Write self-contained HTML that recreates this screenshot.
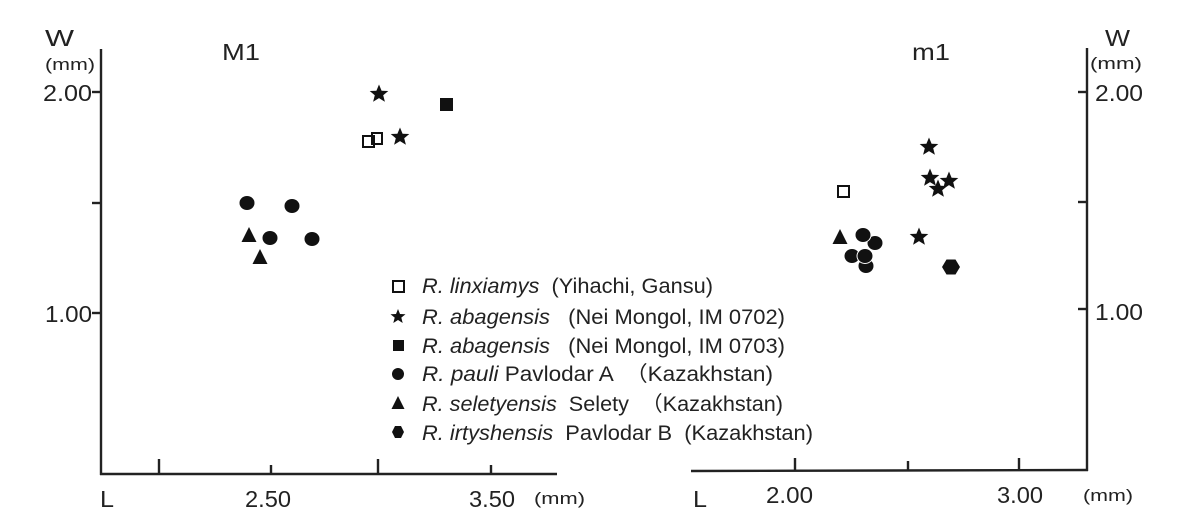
<!DOCTYPE html>
<html><head><meta charset="utf-8"><style>
html,body{margin:0;padding:0;background:#fff;}
svg{display:block;font-family:"Liberation Sans",Arial,sans-serif;}
</style></head><body>
<svg width="1200" height="527" viewBox="0 0 1200 527" xmlns="http://www.w3.org/2000/svg">
<defs>
<path id="star" d="M0,-9.5 L2.6,-3.2 L9.3,-3 L4.2,1.3 L5.9,7.8 L0,4.1 L-5.9,7.8 L-4.2,1.3 L-9.3,-3 L-2.6,-3.2Z" fill="#111"/>
<path id="tri" d="M0,-8 L7.5,7 L-7.5,7Z" fill="#111"/>
<path id="hex" d="M-4.5,-7.5 L4.5,-7.5 L9,0 L4.5,7.5 L-4.5,7.5 L-9,0Z" fill="#111"/>
</defs>
<g stroke="#222" stroke-width="2.4" fill="none">
<line x1="101" y1="49" x2="101" y2="475"/>
<line x1="100" y1="474" x2="557" y2="474"/>
<line x1="92" y1="92" x2="101" y2="92"/>
<line x1="92" y1="203" x2="101" y2="203"/>
<line x1="92" y1="313" x2="101" y2="313"/>
<line x1="159" y1="459" x2="159" y2="474"/>
<line x1="271" y1="465" x2="271" y2="474"/>
<line x1="378" y1="459" x2="378" y2="474"/>
<line x1="491" y1="465" x2="491" y2="474"/>
<line x1="1087" y1="48" x2="1087" y2="471"/>
<line x1="691" y1="471" x2="1088" y2="470"/>
<line x1="1078" y1="92" x2="1087" y2="92"/>
<line x1="1078" y1="202" x2="1087" y2="202"/>
<line x1="1078" y1="309" x2="1087" y2="309"/>
<line x1="795" y1="458" x2="795" y2="471"/>
<line x1="908" y1="461" x2="908" y2="471"/>
<line x1="1019" y1="458" x2="1019" y2="471"/>
</g>
<g fill="#222" lengthAdjust="spacingAndGlyphs">
<text x="45" y="46" font-size="23" textLength="29" lengthAdjust="spacingAndGlyphs">W</text>
<text x="45" y="70" font-size="17" textLength="50" lengthAdjust="spacingAndGlyphs">(mm)</text>
<text x="222" y="60" font-size="23" textLength="38" lengthAdjust="spacingAndGlyphs">M1</text>
<text x="43" y="101" font-size="23" textLength="49" lengthAdjust="spacingAndGlyphs">2.00</text>
<text x="45" y="322" font-size="23" textLength="47" lengthAdjust="spacingAndGlyphs">1.00</text>
<text x="100" y="507" font-size="23" textLength="14" lengthAdjust="spacingAndGlyphs">L</text>
<text x="245" y="507" font-size="23" textLength="46" lengthAdjust="spacingAndGlyphs">2.50</text>
<text x="469" y="507" font-size="23" textLength="46" lengthAdjust="spacingAndGlyphs">3.50</text>
<text x="534" y="504" font-size="17" textLength="51" lengthAdjust="spacingAndGlyphs">(mm)</text>

<text x="1105" y="46" font-size="23" textLength="25" lengthAdjust="spacingAndGlyphs">W</text>
<text x="1090" y="69" font-size="17" textLength="52" lengthAdjust="spacingAndGlyphs">(mm)</text>
<text x="912" y="60" font-size="23" textLength="38" lengthAdjust="spacingAndGlyphs">m1</text>
<text x="1095" y="101" font-size="23" textLength="48" lengthAdjust="spacingAndGlyphs">2.00</text>
<text x="1095" y="320" font-size="23" textLength="48" lengthAdjust="spacingAndGlyphs">1.00</text>
<text x="693" y="507" font-size="23" textLength="14" lengthAdjust="spacingAndGlyphs">L</text>
<text x="766" y="503" font-size="23" textLength="47" lengthAdjust="spacingAndGlyphs">2.00</text>
<text x="997" y="503" font-size="23" textLength="46" lengthAdjust="spacingAndGlyphs">3.00</text>
<text x="1083" y="501" font-size="17" textLength="50" lengthAdjust="spacingAndGlyphs">(mm)</text>
</g>
<use href="#star" x="379" y="94"/>
<use href="#star" x="400" y="137"/>
<rect x="440" y="98" width="13" height="13" fill="#111"/>
<rect x="363" y="136" width="11" height="11" fill="none" stroke="#111" stroke-width="2"/>
<rect x="372" y="133" width="10" height="11" fill="none" stroke="#111" stroke-width="2"/>
<g fill="#111">
<ellipse cx="247" cy="203" rx="7.5" ry="7"/>
<ellipse cx="292" cy="206" rx="7.5" ry="7"/>
<ellipse cx="270" cy="238" rx="7.5" ry="7"/>
<ellipse cx="312" cy="239" rx="7.5" ry="7"/>
</g>
<use href="#tri" x="249" y="235"/>
<use href="#tri" x="260" y="257"/>
<rect x="838" y="186" width="11" height="11" fill="none" stroke="#111" stroke-width="2"/>
<use href="#star" x="929" y="147"/>
<use href="#star" x="938" y="189"/>
<use href="#star" x="930" y="178"/>
<use href="#star" x="949" y="181"/>
<use href="#star" x="919" y="237"/>
<use href="#tri" x="840" y="237"/>
<g fill="#111" stroke="#fff" stroke-width="1">
<ellipse cx="875" cy="243" rx="8" ry="7.5"/>
<ellipse cx="863" cy="235" rx="8" ry="7.5"/>
<ellipse cx="866" cy="266" rx="8" ry="7.5"/>
<ellipse cx="852" cy="256" rx="8" ry="7.5"/>
<ellipse cx="865" cy="256" rx="8" ry="7.5"/>
</g>
<use href="#hex" x="951" y="267"/>
<rect x="393" y="281" width="11" height="11" fill="none" stroke="#111" stroke-width="2"/>
<path d="M398,309 L400,314 L405.5,314.3 L401.3,317.6 L402.7,323 L398,320 L393.3,323 L394.7,317.6 L390.5,314.3 L396,314Z" fill="#111"/>
<rect x="393" y="340" width="11" height="11" fill="#111"/>
<circle cx="398" cy="374" r="6" fill="#111"/>
<path d="M398,396 L404.5,409 L391.5,409Z" fill="#111"/>
<path d="M395,426 L401,426 L404,432 L401,438 L395,438 L392,432Z" fill="#111"/>
<g fill="#222" font-size="21">
<text x="422" y="293" textLength="291" lengthAdjust="spacingAndGlyphs" xml:space="preserve"><tspan font-style="italic">R. linxiamys</tspan>  (Yihachi, Gansu)</text>
<text x="422" y="324" textLength="363" lengthAdjust="spacingAndGlyphs" xml:space="preserve"><tspan font-style="italic">R. abagensis</tspan>   (Nei Mongol, IM 0702)</text>
<text x="422" y="353" textLength="363" lengthAdjust="spacingAndGlyphs" xml:space="preserve"><tspan font-style="italic">R. abagensis</tspan>   (Nei Mongol, IM 0703)</text>
<text x="422" y="381" textLength="351" lengthAdjust="spacingAndGlyphs" xml:space="preserve"><tspan font-style="italic">R. pauli</tspan> Pavlodar A  （Kazakhstan)</text>
<text x="422" y="411" textLength="361" lengthAdjust="spacingAndGlyphs" xml:space="preserve"><tspan font-style="italic">R. seletyensis</tspan>  Selety  （Kazakhstan)</text>
<text x="422" y="440" textLength="391" lengthAdjust="spacingAndGlyphs" xml:space="preserve"><tspan font-style="italic">R. irtyshensis</tspan>  Pavlodar B  (Kazakhstan)</text>
</g>
</svg>
</body></html>
